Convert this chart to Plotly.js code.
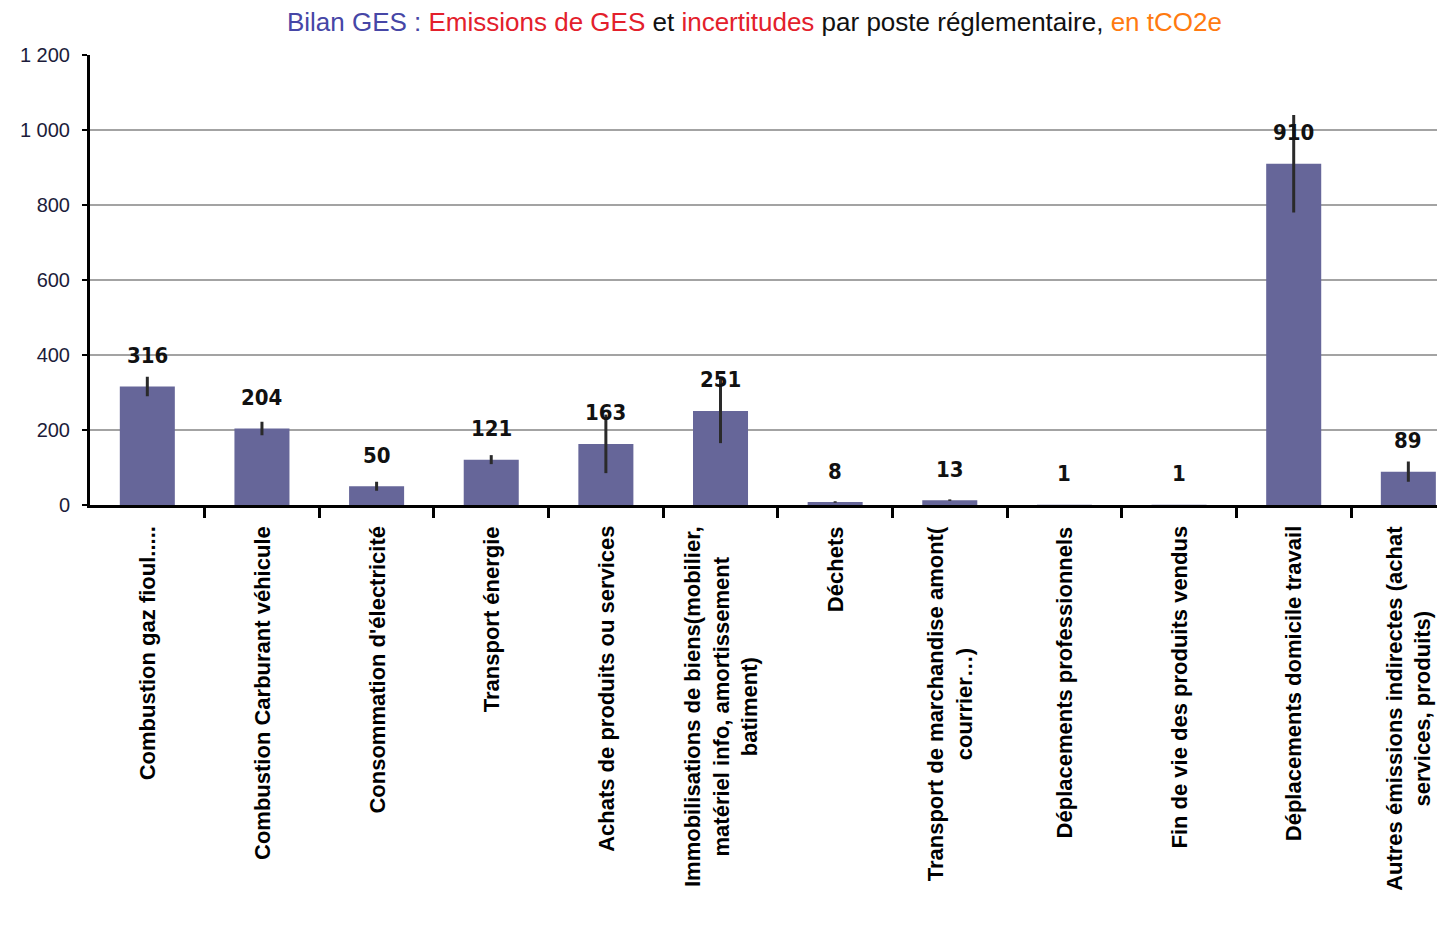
<!DOCTYPE html>
<html>
<head>
<meta charset="utf-8">
<script src="https://cdn.plot.ly/plotly-3.0.1.min.js"></script>
<style>html,body{margin:0;padding:0;background:#fff;}#chart{width:1437px;height:931px;}</style>
</head>
<body>
<div id="chart"></div>
<script>
var categories = [
  "Combustion gaz fioul.....",
  "Combustion Carburant véhicule",
  "Consommation d'électricité",
  "Transport énergie",
  "Achats de produits ou services",
  "Immobilisations de biens(mobilier,<br>matériel info, amortissement<br>batiment)",
  "Déchets",
  "Transport de marchandise amont(<br>courrier…)",
  "Déplacements professionnels",
  "Fin de vie des produits vendus",
  "Déplacements domicile travail",
  "Autres émissions indirectes (achat<br>services, produits)"
];
var emissions = [316, 204, 50, 121, 163, 251, 8, 13, 1, 1, 910, 89];
var uncertainties = [26, 18, 12, 12, 78, 86, 2, 2, 0, 0, 130, 27];
var valueLabels = ["316", "204", "50", "121", "163", "251", "8", "13", "1", "1", "910", "89"];
var yTickValues = [0, 200, 400, 600, 800, 1000, 1200];
var yTickLabels = ["0", "200", "400", "600", "800", "1 000", "1 200"];

var catIdx = categories.map(function(c, i){ return i; });

var bars = {
  type: 'bar',
  x: catIdx,
  y: emissions,
  marker: {color: '#666699', line: {width: 0}},
  error_y: {type: 'data', array: uncertainties, visible: true, color: '#2a2a2a', thickness: 3, width: 0},
  hoverinfo: 'y'
};

var valueAnnotations = emissions.map(function(v, i){
  return {
    x: i, y: v, xref: 'x', yref: 'y',
    text: '<b>' + valueLabels[i] + '</b>', showarrow: false,
    yanchor: 'middle', yshift: 31,
    font: {family: "'Liberation Sans Narrow', 'DejaVu Sans Condensed', sans-serif", size: 22, color: '#111'}
  };
});

var categoryAnnotations = categories.map(function(c, i){
  return {
    x: i, y: 0, xref: 'x', yref: 'y',
    text: '<b>' + c + '</b>', showarrow: false,
    textangle: -90, align: 'center',
    xanchor: 'center', yanchor: 'top', yshift: -19,
    font: {family: "'Liberation Sans', Arial, sans-serif", size: 22, color: '#000'}
  };
});

var layout = {
  width: 1437, height: 931,
  paper_bgcolor: '#fff', plot_bgcolor: '#fff',
  margin: {l: 90, r: 0, t: 55, b: 426},
  bargap: 0.52,
  showlegend: false,
  title: {
    text: '<span style="color:#4646a6">Bilan GES :</span> <span style="color:#e3202b">Emissions de GES</span> et <span style="color:#e3202b">incertitudes</span> par poste réglementaire, <span style="color:#ff7a10">en tCO2e</span>',
    x: 0.525, xanchor: 'center', y: 0.976, yanchor: 'middle', yref: 'container',
    font: {family: "'Liberation Sans Narrow', 'Liberation Sans', sans-serif", size: 26, color: '#111'}
  },
  xaxis: {
    type: 'linear',
    range: [-0.5, 11.25],
    tickmode: 'array',
    tickvals: catIdx.map(function(i){ return i + 0.5; }),
    ticktext: catIdx.map(function(){ return ''; }),
    ticks: 'outside', ticklen: 10, tickwidth: 3, tickcolor: '#000',
    showgrid: false,
    showline: true, linecolor: '#000', linewidth: 3,
    zeroline: false
  },
  yaxis: {
    range: [0, 1200],
    tickmode: 'array',
    tickvals: yTickValues,
    ticktext: yTickLabels,
    ticks: 'outside', ticklen: 5, tickwidth: 2, tickcolor: '#000',
    showline: true, linecolor: '#000', linewidth: 3,
    showgrid: true, gridcolor: '#a3a3a3', gridwidth: 2,
    zeroline: false,
    tickfont: {family: "'Liberation Sans Narrow', 'Liberation Sans', sans-serif", size: 20, color: '#1c1c3a'},
    ticklabelstandoff: 8
  },
  annotations: valueAnnotations.concat(categoryAnnotations)
};

Plotly.newPlot('chart', [bars], layout, {displayModeBar: false, staticPlot: true});
</script>
</body>
</html>
